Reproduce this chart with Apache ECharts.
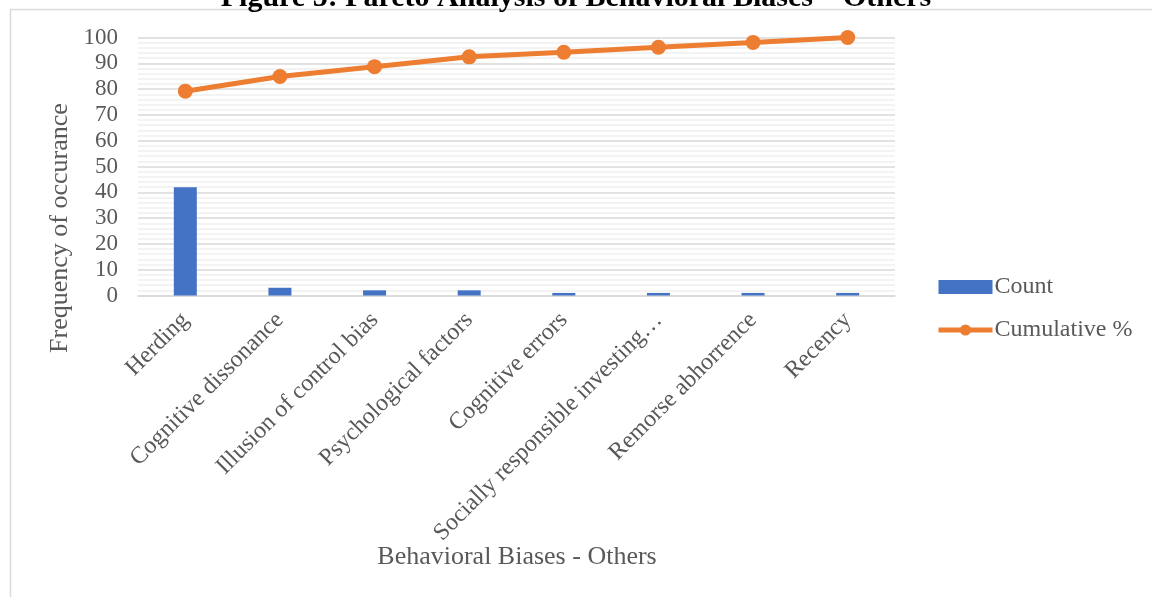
<!DOCTYPE html>
<html>
<head>
<meta charset="utf-8">
<style>
  html, body { margin: 0; padding: 0; background: #ffffff; }
  #chart { width: 1152px; height: 597px; }
</style>
<script src="https://cdn.jsdelivr.net/npm/echarts@6/dist/echarts.min.js"></script>
</head>
<body>
<div id="chart"></div>
<script>
// Pareto data: behavioural biases grouped as "Others"
const categories = [
  'Herding',
  'Cognitive dissonance',
  'Illusion of control bias',
  'Psychological factors',
  'Cognitive errors',
  'Socially responsible investing…',
  'Remorse abhorrence',
  'Recency'
];
const counts = [42, 3, 2, 2, 1, 1, 1, 1];
const cumulativePct = [79.2, 84.9, 88.7, 92.5, 94.3, 96.2, 98.1, 100];
const yTicks = [0, 10, 20, 30, 40, 50, 60, 70, 80, 90, 100];

const FONT = '"Liberation Serif", "Times New Roman", serif';
const TEXT = '#595959';
const ORANGE = '#ED7D31';
const BLUE = '#4472C4';

const chart = echarts.init(document.getElementById('chart'), null, { renderer: 'canvas' });

chart.setOption({
  backgroundColor: '#ffffff',
  animation: false,
  title: {
    text: 'Figure 5: Pareto Analysis of Behavioral Biases – Others',
    left: 'center',
    top: -22,
    textStyle: { fontFamily: FONT, fontSize: 30, fontWeight: 'bold', color: '#000000' }
  },
  graphic: [
    {
      // chart frame
      type: 'rect',
      silent: true,
      z: -10,
      shape: { x: 10.5, y: 9.5, width: 1300, height: 800 },
      style: { fill: 'none', stroke: '#d9d9d9', lineWidth: 1.5 }
    },
    {
      // y axis title
      type: 'text',
      x: 60,
      y: 228,
      rotation: Math.PI / 2,
      style: {
        text: 'Frequency of occurance',
        font: '26px ' + FONT,
        fill: TEXT,
        align: 'center',
        verticalAlign: 'middle'
      }
    },
    {
      // x axis title
      type: 'text',
      x: 517,
      y: 557,
      style: {
        text: 'Behavioral Biases - Others',
        font: '26px ' + FONT,
        fill: TEXT,
        align: 'center',
        verticalAlign: 'middle'
      }
    }
  ],
  legend: {
    orient: 'vertical',
    left: 931,
    top: 270,
    itemWidth: 54,
    itemHeight: 14,
    itemGap: 19,
    textStyle: { fontFamily: FONT, fontSize: 24, color: TEXT, padding: [0, 0, 0, -3] },
    data: [
      { name: 'Count', icon: 'rect', itemStyle: { color: BLUE } },
      {
        name: 'Cumulative %',
        itemStyle: { color: ORANGE },
        lineStyle: { color: ORANGE, width: 5 }
      }
    ]
  },
  grid: { left: 138, right: 257, top: 37.5, bottom: 301.5, containLabel: false },
  xAxis: {
    type: 'category',
    data: categories,
    axisLine: { lineStyle: { color: '#d9d9d9', width: 1.5 } },
    axisTick: { show: false },
    axisLabel: {
      rotate: 45,
      interval: 0,
      margin: 21,
      fontFamily: FONT,
      fontSize: 24,
      color: TEXT
    }
  },
  yAxis: {
    type: 'value',
    min: yTicks[0],
    max: yTicks[yTicks.length - 1],
    interval: 10,
    axisLine: { show: false },
    axisTick: { show: false },
    axisLabel: { fontFamily: FONT, fontSize: 23, color: TEXT, margin: 20 },
    splitLine: { lineStyle: { color: '#d9d9d9', width: 1.5 } },
    minorTick: { show: false, splitNumber: 5 },
    minorSplitLine: { show: true, lineStyle: { color: '#f0f0f0', width: 1.5 } }
  },
  series: [
    {
      name: 'Count',
      type: 'bar',
      data: counts,
      barWidth: 23,
      itemStyle: { color: BLUE },
      z: 2
    },
    {
      name: 'Cumulative %',
      type: 'line',
      data: cumulativePct,
      symbol: 'circle',
      symbolSize: 15,
      lineStyle: { color: ORANGE, width: 5 },
      itemStyle: { color: ORANGE },
      z: 3
    }
  ]
});
</script>
</body>
</html>
